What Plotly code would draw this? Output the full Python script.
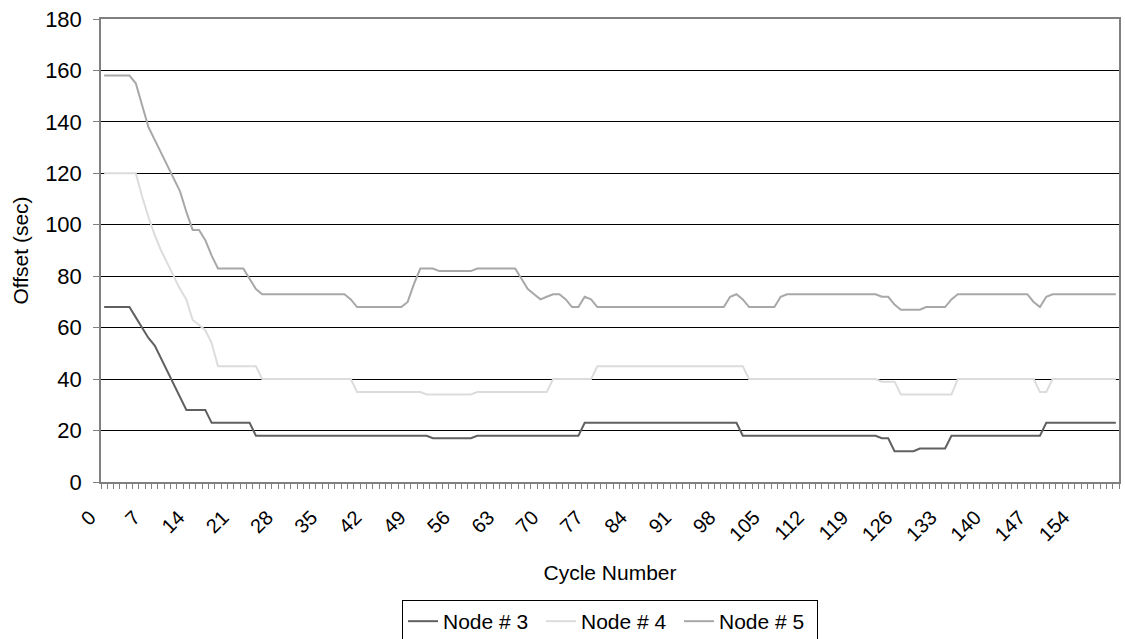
import plotly.graph_objects as go

# Cycle numbers (categories)
cycles = list(range(0, 161))

# Offset values (sec)
node3 = [
    68, 68, 68, 68, 68, 64, 60, 56, 53, 48,
    43, 38, 33, 28, 28, 28, 28, 23, 23, 23,
    23, 23, 23, 23, 18, 18, 18, 18, 18, 18,
    18, 18, 18, 18, 18, 18, 18, 18, 18, 18,
    18, 18, 18, 18, 18, 18, 18, 18, 18, 18,
    18, 18, 17, 17, 17, 17, 17, 17, 17, 18,
    18, 18, 18, 18, 18, 18, 18, 18, 18, 18,
    18, 18, 18, 18, 18, 18, 23, 23, 23, 23,
    23, 23, 23, 23, 23, 23, 23, 23, 23, 23,
    23, 23, 23, 23, 23, 23, 23, 23, 23, 23,
    23, 18, 18, 18, 18, 18, 18, 18, 18, 18,
    18, 18, 18, 18, 18, 18, 18, 18, 18, 18,
    18, 18, 18, 17, 17, 12, 12, 12, 12, 13,
    13, 13, 13, 13, 18, 18, 18, 18, 18, 18,
    18, 18, 18, 18, 18, 18, 18, 18, 18, 23,
    23, 23, 23, 23, 23, 23, 23, 23, 23, 23,
    23,
]
node4 = [
    120, 120, 120, 120, 120, 120, 111, 103, 96, 90,
    85, 80, 75, 71, 63, 61, 59, 54, 45, 45,
    45, 45, 45, 45, 45, 40, 40, 40, 40, 40,
    40, 40, 40, 40, 40, 40, 40, 40, 40, 40,
    35, 35, 35, 35, 35, 35, 35, 35, 35, 35,
    35, 34, 34, 34, 34, 34, 34, 34, 34, 35,
    35, 35, 35, 35, 35, 35, 35, 35, 35, 35,
    35, 40, 40, 40, 40, 40, 40, 40, 45, 45,
    45, 45, 45, 45, 45, 45, 45, 45, 45, 45,
    45, 45, 45, 45, 45, 45, 45, 45, 45, 45,
    45, 45, 40, 40, 40, 40, 40, 40, 40, 40,
    40, 40, 40, 40, 40, 40, 40, 40, 40, 40,
    40, 40, 40, 39, 39, 39, 34, 34, 34, 34,
    34, 34, 34, 34, 34, 40, 40, 40, 40, 40,
    40, 40, 40, 40, 40, 40, 40, 40, 35, 35,
    40, 40, 40, 40, 40, 40, 40, 40, 40, 40,
    40,
]
node5 = [
    158, 158, 158, 158, 158, 155, 146, 138, 133, 128,
    123, 118, 113, 105, 98, 98, 94, 88, 83, 83,
    83, 83, 83, 79, 75, 73, 73, 73, 73, 73,
    73, 73, 73, 73, 73, 73, 73, 73, 73, 71,
    68, 68, 68, 68, 68, 68, 68, 68, 70, 77,
    83, 83, 83, 82, 82, 82, 82, 82, 82, 83,
    83, 83, 83, 83, 83, 83, 79, 75, 73, 71,
    72, 73, 73, 71, 68, 68, 72, 71, 68, 68,
    68, 68, 68, 68, 68, 68, 68, 68, 68, 68,
    68, 68, 68, 68, 68, 68, 68, 68, 68, 72,
    73, 71, 68, 68, 68, 68, 68, 72, 73, 73,
    73, 73, 73, 73, 73, 73, 73, 73, 73, 73,
    73, 73, 73, 72, 72, 69, 67, 67, 67, 67,
    68, 68, 68, 68, 71, 73, 73, 73, 73, 73,
    73, 73, 73, 73, 73, 73, 73, 70, 68, 72,
    73, 73, 73, 73, 73, 73, 73, 73, 73, 73,
    73,
]

x_tick_labels = [0, 7, 14, 21, 28, 35, 42, 49, 56, 63, 70, 77, 84, 91, 98,
                 105, 112, 119, 126, 133, 140, 147, 154]
y_ticks = [0, 20, 40, 60, 80, 100, 120, 140, 160, 180]

FONT = "Liberation Sans, Arial, sans-serif"

fig = go.Figure()
series = [
    ("Node # 3", node3, "#606060"),
    ("Node # 4", node4, "#dcdcdc"),
    ("Node # 5", node5, "#a8a8a8"),
]
for name, vals, col in series:
    fig.add_trace(go.Scatter(x=cycles, y=vals, name=name, mode="lines",
                             line=dict(color=col, width=2)))

fig.update_layout(
    width=1125, height=639,
    paper_bgcolor="white", plot_bgcolor="white",
    margin=dict(l=101, r=6, t=19, b=157, autoexpand=False),
    font=dict(family=FONT, size=21, color="black"),
    showlegend=True,
    legend=dict(orientation="h", x=0.5, xanchor="center",
                y=-0.2549, yanchor="top",
                bordercolor="#000000", borderwidth=1,
                font=dict(size=21), itemwidth=30,
                entrywidth=93, entrywidthmode="pixels"),
)
fig.update_xaxes(
    range=[-0.5, 160.5],
    tickmode="array", tickvals=x_tick_labels,
    ticktext=[str(v) for v in x_tick_labels],
    tickangle=-45, ticks="", ticklen=0,
    ticklabelstandoff=14, ticklabelshift=-14,
    showgrid=False, zeroline=False,
    showline=True, linecolor="#808080", linewidth=1.5, mirror=True,
    minor=dict(tickmode="linear", tick0=-0.5, dtick=1, ticks="outside",
               ticklen=5, tickcolor="#808080", tickwidth=1, showgrid=False),
    title=dict(text="Cycle Number", standoff=21, font=dict(size=21)),
    tickfont=dict(size=20),
)
fig.update_yaxes(
    range=[0, 180], tickmode="array", tickvals=y_ticks,
    ticks="outside", ticklen=6, tickcolor="#808080",
    ticklabelstandoff=7,
    showgrid=True, gridcolor="#000000", gridwidth=1,
    zeroline=False,
    showline=True, linecolor="#808080", linewidth=1.5, mirror=True,
    title=dict(text="Offset (sec)", standoff=11, font=dict(size=21)),
    tickfont=dict(size=22),
)

fig.write_html(
    "out.html",
    config={"displayModeBar": False},
    post_script="document.body.style.margin='0';document.body.style.overflow='hidden';",
)
